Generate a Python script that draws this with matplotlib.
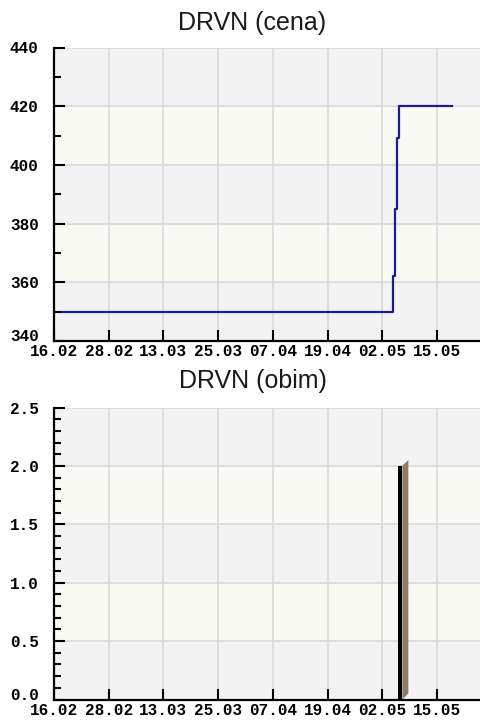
import numpy as np
import pandas as pd
import matplotlib
matplotlib.use('Agg')
from matplotlib import pyplot as plt
from matplotlib.patches import Polygon
import matplotlib.dates as mdates
import matplotlib.transforms as mtransforms

# Data
price_times = pd.to_datetime(['2019-02-17 18:00', '2019-05-05 00:00', '2019-05-05 10:00',
                              '2019-05-05 21:00', '2019-05-06 07:00', '2019-05-18 12:00'])
price_values = [350, 362, 385, 409, 420, 420]

volume_times = pd.to_datetime(['2019-05-06 14:00'])
volume_values = [2.0]

tick_labels = ['16.02', '28.02', '13.03', '25.03', '07.04', '19.04', '02.05', '15.05']
axis_start = pd.Timestamp('2019-02-16')
tick_step_days = 88 / 7

W, H = 481, 721
fig = plt.figure(figsize=(W / 100, H / 100), dpi=100)
fig.patch.set_facecolor('white')

x0 = mdates.date2num(axis_start)
px_per_day = 54.71 / tick_step_days
x1 = x0 + (W - 54) / px_per_day
ticks = [x0 + k * tick_step_days for k in range(len(tick_labels))]

gray = '#f3f3f3'
cream = '#fafaf4'
grid_c = '#dedede'
tick_font = dict(family='Liberation Mono', weight='bold', size=11.5)


def setup(ax, ylim, major, minor):
    ax.set_xlim(x0, x1)
    ax.set_ylim(*ylim)
    ax.set_facecolor(gray)
    edges = np.arange(ylim[0], ylim[1] + major / 2, major)
    for i in range(len(edges) - 1):
        ax.axhspan(edges[i], edges[i + 1], color=gray if i % 2 == 0 else cream, lw=0, zorder=0)
    ax.set_xticks(ticks)
    ax.set_xticklabels(tick_labels, fontdict=tick_font)
    ax.set_yticks(edges)
    ax.set_yticks(np.arange(ylim[0], ylim[1] + minor / 2, minor), minor=True)
    ax.grid(True, which='major', color=grid_c, lw=1.4, zorder=1)
    ax.set_axisbelow(True)
    for s in ['top', 'right']:
        ax.spines[s].set_visible(False)
    for s in ['left', 'bottom']:
        ax.spines[s].set_linewidth(1.6)
        ax.spines[s].set_color('black')
        ax.spines[s].set_zorder(5)
    ax.tick_params(axis='both', which='major', direction='in', length=8, width=1.5, color='black')
    ax.tick_params(axis='y', which='minor', direction='in', length=5, width=1.5, color='black')
    ax.tick_params(axis='x', pad=2.5)
    ax.tick_params(axis='y', pad=11)
    for lab in ax.get_yticklabels():
        lab.set_fontproperties(matplotlib.font_manager.FontProperties(**tick_font))
    # lift the lowest value label a little so it clears the date labels
    low = ax.get_yticklabels()[0]
    low.set_transform(low.get_transform() + mtransforms.ScaledTranslation(0, 4 / 72, fig.dpi_scale_trans))


def frac(left, top, right, bottom):
    return [left / W, 1 - bottom / H, (right - left) / W, (bottom - top) / H]


# Price chart
ax1 = fig.add_axes(frac(54, 47.5, W, 341))
setup(ax1, (340, 440), 20, 10)
ax1.yaxis.set_major_formatter(matplotlib.ticker.FormatStrFormatter('%d'))
ax1.plot(mdates.date2num(price_times), price_values, drawstyle='steps-post',
         color='#1c1c8e', lw=1.6, zorder=3)
fig.text(252 / W, 1 - 23 / H, 'DRVN (cena)', ha='center', va='center',
         family='Liberation Sans', size=18, color='#1a1a1a')

# Volume chart
ax2 = fig.add_axes(frac(54, 407.5, W, 699.5))
setup(ax2, (0, 2.5), 0.5, 0.1)
ax2.yaxis.set_major_formatter(matplotlib.ticker.FormatStrFormatter('%.1f'))
bar_w = 0.92
vx = mdates.date2num(volume_times)
ax2.bar(vx, volume_values, width=bar_w, color='black', zorder=3)
dx = 6 / px_per_day
dy = 6 / (291.5 / 2.5)
for x, v in zip(vx, volume_values):
    xr = x + bar_w / 2
    ax2.add_patch(Polygon([(xr, 0), (xr, v), (xr + dx, v + dy), (xr + dx, dy)],
                          closed=True, color='#8b7c6b', lw=0, zorder=3))
fig.text(253 / W, 1 - 381 / H, 'DRVN (obim)', ha='center', va='center',
         family='Liberation Sans', size=18, color='#1a1a1a')

fig.savefig('out.png', dpi=100)
